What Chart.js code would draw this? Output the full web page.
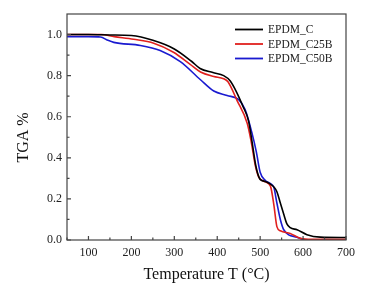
<!DOCTYPE html>
<html>
<head>
<meta charset="utf-8">
<script src="https://cdn.jsdelivr.net/npm/chart.js@4"></script>
<style>
  html, body { margin: 0; padding: 0; background: #fff; }
  #wrap { width: 373px; height: 294px; }
</style>
</head>
<body>
<div id="wrap"><canvas id="tgaChart" width="373" height="294"></canvas></div>
<script>
// series labels
var labels = ['EPDM_C', 'EPDM_C25B', 'EPDM_C50B'];
var colors = ['#000000', '#e0201e', '#1a1ad0'];

// EPDM_C
var tempC = [50, 100, 150, 200, 250, 300, 340, 360, 390, 415, 430, 445, 460, 473, 481, 490, 500, 512, 524, 532, 539, 547, 555, 562, 570, 586, 609, 640, 700];
var tgaC  = [1.0, 1.0, 0.998, 0.995, 0.972, 0.93, 0.87, 0.835, 0.815, 0.80, 0.775, 0.72, 0.65, 0.58, 0.48, 0.36, 0.295, 0.285, 0.272, 0.258, 0.235, 0.18, 0.125, 0.08, 0.06, 0.05, 0.026, 0.014, 0.012];

// EPDM_C25B
var tempC25 = [50, 100, 130, 160, 205, 252, 298, 337, 361, 392, 415, 425, 446, 470, 479, 489, 497, 512, 524, 532, 539, 547, 570, 594, 620, 700];
var tgaC25  = [1.0, 1.0, 1.0, 0.99, 0.977, 0.958, 0.914, 0.855, 0.818, 0.796, 0.785, 0.77, 0.68, 0.567, 0.48, 0.36, 0.305, 0.283, 0.262, 0.17, 0.065, 0.045, 0.032, 0.008, 0.003, 0.003];

// EPDM_C50B
var tempC50 = [50, 100, 128, 145, 159, 221, 267, 314, 361, 392, 423, 450, 465, 481, 491, 500, 512, 524, 532, 539, 547, 555, 586, 609, 700];
var tgaC50  = [0.99, 0.99, 0.988, 0.972, 0.962, 0.947, 0.922, 0.868, 0.78, 0.725, 0.703, 0.683, 0.635, 0.52, 0.43, 0.33, 0.29, 0.275, 0.255, 0.18, 0.1, 0.05, 0.013, 0.0, 0.0];

// axis ticks
var xTicks = [100, 200, 300, 400, 500, 600, 700];
var yTicks = [0.0, 0.2, 0.4, 0.6, 0.8, 1.0];

function toPoints(xs, ys) {
  var pts = [];
  for (var i = 0; i < xs.length; i++) pts.push({x: xs[i], y: ys[i]});
  return pts;
}

var seriesX = [tempC, tempC25, tempC50];
var seriesY = [tgaC, tgaC25, tgaC50];
var datasets = [];
for (var i = 0; i < labels.length; i++) {
  datasets.push({
    label: labels[i],
    data: toPoints(seriesX[i], seriesY[i]),
    borderColor: colors[i],
    borderWidth: 1.6,
    pointRadius: 0,
    fill: false,
    cubicInterpolationMode: 'monotone'
  });
}

var serif = '"Liberation Serif", "DejaVu Serif", serif';
var frameColor = '#444';

// frame, inward ticks, legend and axis titles
var decorations = {
  id: 'decorations',
  afterDraw: function(chart) {
    var ctx = chart.ctx;
    var a = chart.chartArea;
    var xs = chart.scales.x, ys = chart.scales.y;
    ctx.save();
    ctx.strokeStyle = frameColor;
    ctx.lineWidth = 1.2;
    ctx.strokeRect(a.left, a.top, a.right - a.left, a.bottom - a.top);

    ctx.beginPath();
    for (var v = 50; v <= 700; v += 50) {
      var px = xs.getPixelForValue(v);
      var len = (v % 100 === 0) ? 4 : 2.5;
      ctx.moveTo(px, a.bottom);
      ctx.lineTo(px, a.bottom - len);
    }
    for (var k = 0; k <= 10; k++) {
      var py = ys.getPixelForValue(k / 10);
      var l2 = (k % 2 === 0) ? 4 : 2.5;
      ctx.moveTo(a.left, py);
      ctx.lineTo(a.left + l2, py);
    }
    ctx.stroke();

    // legend
    ctx.font = '11.5px ' + serif;
    ctx.textBaseline = 'middle';
    ctx.textAlign = 'left';
    chart.data.datasets.forEach(function(ds, i) {
      var y = 29.5 + i * 14.5;
      ctx.strokeStyle = ds.borderColor;
      ctx.lineWidth = 1.8;
      ctx.beginPath();
      ctx.moveTo(235, y);
      ctx.lineTo(263, y);
      ctx.stroke();
      ctx.fillStyle = '#222';
      ctx.fillText(ds.label, 268, y + 0.5);
    });

    // axis titles
    ctx.fillStyle = '#111';
    ctx.font = '16px ' + serif;
    ctx.textAlign = 'center';
    ctx.textBaseline = 'middle';
    ctx.fillText('Temperature T (\u00B0C)', (a.left + a.right) / 2, 275);
    ctx.translate(24, 137.5);
    ctx.rotate(-Math.PI / 2);
    ctx.fillText('TGA %', 0, 0);
    ctx.restore();
  }
};

var ctx = document.getElementById('tgaChart').getContext('2d');
var chart = new Chart(ctx, {
  type: 'line',
  data: { datasets: datasets },
  options: {
    responsive: false,
    animation: false,
    layout: { padding: { top: 14, right: 27, left: 0, bottom: 0 } },
    plugins: { legend: { display: false }, tooltip: { enabled: false } },
    scales: {
      x: {
        type: 'linear',
        min: 50,
        max: 700,
        grid: { display: false, drawTicks: false },
        border: { display: false },
        afterFit: function(s) { s.height = 54; },
        afterBuildTicks: function(s) { s.ticks = xTicks.map(function(v) { return {value: v}; }); },
        ticks: {
          padding: 6,
          color: '#222',
          font: { family: serif, size: 12 },
          maxRotation: 0
        }
      },
      y: {
        min: 0,
        max: 1.1,
        grid: { display: false, drawTicks: false },
        border: { display: false },
        afterFit: function(s) { s.width = 67; },
        afterBuildTicks: function(s) { s.ticks = yTicks.map(function(v) { return {value: v}; }); },
        ticks: {
          padding: 5,
          color: '#222',
          font: { family: serif, size: 12 },
          callback: function(v) { return v.toFixed(1); }
        }
      }
    }
  },
  plugins: [decorations]
});
</script>
</body>
</html>
